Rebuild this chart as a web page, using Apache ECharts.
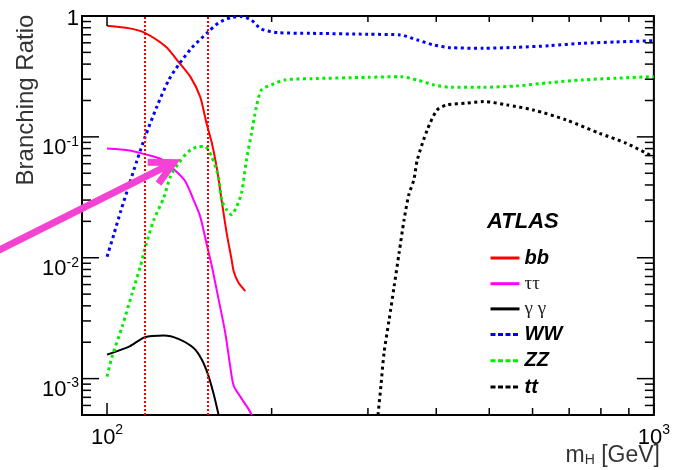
<!DOCTYPE html>
<html>
<head>
<meta charset="utf-8">
<script src="https://cdn.jsdelivr.net/npm/echarts@6/dist/echarts.min.js"></script>
<style>
  html, body { margin: 0; padding: 0; background: #fff; }
  #chart { width: 673px; height: 470px; }
</style>
</head>
<body>
<div id="chart"></div>
<script>
// axis ranges (log scales)
const X_MIN = 90, X_MAX = 1000
const Y_MIN = 5e-4, Y_MAX = 1

// tick positions
const xTickVals = [100, 200, 300, 400, 500, 600, 700, 800, 900, 1000]
const yTickVals = [6e-4, 7e-4, 8e-4, 9e-4,
    1e-3, 2e-3, 3e-3, 4e-3, 5e-3, 6e-3, 7e-3, 8e-3, 9e-3,
    1e-2, 2e-2, 3e-2, 4e-2, 5e-2, 6e-2, 7e-2, 8e-2, 9e-2,
    0.1, 0.2, 0.3, 0.4, 0.5, 0.6, 0.7, 0.8, 0.9, 1]

// Higgs mass (GeV) and branching ratios
const bbM  = [100, 110, 117, 128, 135, 142, 148, 152, 155.5, 159, 162, 165.5, 169, 170.5, 174, 179]
const bbBR = [0.83, 0.79, 0.73, 0.56, 0.42, 0.315, 0.215, 0.13, 0.089, 0.053, 0.030, 0.016, 0.0096, 0.0077, 0.0062, 0.0053]

const tauM  = [100, 110, 117, 126, 133, 139, 144, 148, 152, 155.5, 160, 164.5, 168, 170.5, 176, 181, 184]
const tauBR = [0.080, 0.077, 0.072, 0.065, 0.053, 0.043, 0.030, 0.022, 0.0132, 0.0085, 0.0045, 0.0024, 0.00126, 0.00087, 0.00069, 0.00057, 0.0005]

const ggM  = [100, 110, 117, 127, 135, 144, 149, 153, 156.5, 160]
const ggBR = [0.00158, 0.00185, 0.00219, 0.00227, 0.00213, 0.00179, 0.00144, 0.00108, 0.00076, 0.0005]

const wwM  = [100, 103, 106, 109.6, 113.4, 117.2, 123.3, 129.7, 135.1, 142.8, 153.1, 159.8, 168.8, 175.9, 183.5, 191.4, 205.5, 236, 300, 344, 369, 396, 425, 488, 561, 645, 742, 853, 1000]
const wwBR = [0.0102, 0.0158, 0.0245, 0.0394, 0.0633, 0.098, 0.177, 0.296, 0.394, 0.544, 0.738, 0.875, 0.975, 0.99, 0.927, 0.781, 0.728, 0.719, 0.706, 0.697, 0.634, 0.576, 0.547, 0.541, 0.551, 0.568, 0.595, 0.61, 0.625]

const zzM  = [100, 102.2, 106.6, 111.2, 115.1, 117.6, 121.8, 126.9, 130.6, 135.2, 140.9, 147, 151, 155.4, 159.8, 162, 165.5, 169, 172.6, 176.2, 179.9, 183.7, 187.6, 191.6, 199.8, 211.3, 236, 300, 344, 369, 396, 425, 488, 561, 645, 742, 853, 1000]
const zzBR = [0.00104, 0.00153, 0.0027, 0.0051, 0.0085, 0.0124, 0.0206, 0.0311, 0.047, 0.0607, 0.0756, 0.0831, 0.0831, 0.0687, 0.047, 0.0302, 0.0249, 0.0227, 0.0265, 0.0343, 0.0645, 0.107, 0.178, 0.245, 0.269, 0.296, 0.303, 0.311, 0.315, 0.296, 0.269, 0.257, 0.257, 0.264, 0.281, 0.296, 0.306, 0.315]

const ttM  = [313, 316.8, 321, 328, 335, 342, 349.3, 356.5, 364, 369.3, 385, 401.5, 418.6, 455, 488, 538, 601.7, 691.8, 795.6, 889.4, 1000]
const ttBR = [0.0005, 0.000865, 0.00163, 0.00307, 0.0058, 0.0109, 0.0206, 0.0335, 0.0441, 0.0645, 0.114, 0.167, 0.184, 0.19, 0.196, 0.184, 0.167, 0.138, 0.107, 0.0887, 0.068]

// dotted vertical lines (GeV)
const cutLines = [117, 153]
// annotation arrow: [mStart, brStart, mTip, brTip]
const arrowPts = [58.5, 0.00963, 132.4, 0.0613]

const greekNames = ['ττ', 'γ γ']

function zip(a, b) {
    return a.map((v, i) => [v, b[i]])
}
function isDecade(v) {
    const l = Math.log10(v)
    return Math.abs(l - Math.round(l)) < 1e-6
}
function powLabel(v) {
    if (!isDecade(v)) return ''
    const e = Math.round(Math.log10(v))
    if (e === 0) return '{o|1}'
    return '{n|10}{s|' + e + '}'
}

const FONT = 'Liberation Sans, Arial, sans-serif'
const xRich = {
    n: { fontSize: 22, fontFamily: FONT, color: '#000', padding: [4, 0, 0, 0] },
    s: { fontSize: 14, fontFamily: FONT, color: '#000', verticalAlign: 'top' }
}
const yRich = {
    o: { fontSize: 22, fontFamily: FONT, color: '#000', padding: [0, 0, 2, 0] },
    n: { fontSize: 22, fontFamily: FONT, color: '#000', padding: [14, 0, 0, 0] },
    s: { fontSize: 14, fontFamily: FONT, color: '#000', verticalAlign: 'top', padding: [12, 0, 0, 0] }
}

function lineSeries(name, data, color, dashed) {
    return {
        name: name,
        type: 'line',
        data: data,
        symbol: 'none',
        showSymbol: false,
        smooth: 0.25,
        clip: true,
        lineStyle: {
            color: color,
            width: dashed ? 3 : 2,
            type: dashed ? [3, 3.5] : 'solid'
        },
        itemStyle: { color: color }
    }
}

function tickRect(x, y, w, h) {
    return {
        type: 'rect',
        shape: { x: Math.min(x, x + w), y: Math.min(y, y + h), width: Math.abs(w), height: Math.abs(h) },
        style: { fill: '#000', stroke: null }
    }
}

// frame ticks: positions along each axis come from the axis scale (probed at an
// interior value on the other axis), the frame edges from the grid rect
function tickChildren(params, api) {
    const cs = params.coordSys
    const left = cs.x, right = cs.x + cs.width
    const top = cs.y, bottom = cs.y + cs.height
    const out = []
    xTickVals.forEach(v => {
        let px = api.coord([v, 0.01])[0]
        if (!isFinite(px)) px = v >= X_MAX ? right : left
        const big = isDecade(v)
        out.push(tickRect(px - 0.75, bottom, 1.5, -(big ? 12 : 7)))
        out.push(tickRect(px - 0.75, top, 1.5, big ? 10 : 6))
    })
    yTickVals.forEach(v => {
        let py = api.coord([200, v])[1]
        if (!isFinite(py)) py = v >= Y_MAX ? top : bottom
        const len = isDecade(v) ? 17 : 9
        out.push(tickRect(left, py - 0.75, len, 1.5))
        out.push(tickRect(right, py - 0.75, -len, 1.5))
    })
    return out
}

function renderDecor(params, api) {
    const p0 = api.coord([api.value(0), api.value(1)])
    const p1 = api.coord([api.value(2), api.value(3)])
    const dx = p1[0] - p0[0], dy = p1[1] - p0[1]
    const len = Math.sqrt(dx * dx + dy * dy)
    const ux = dx / len, uy = dy / len
    const nx = -uy, ny = ux
    const L = 23, W = 12
    const st = { stroke: '#f442d4', lineWidth: 7, fill: null, lineJoin: 'miter', lineCap: 'butt' }
    let ticks = []
    try {
        ticks = tickChildren(params, api)
    } catch (e) {
        ticks = []
    }
    return {
        type: 'group',
        children: ticks.concat([
            { type: 'line', shape: { x1: p0[0], y1: p0[1], x2: p1[0] - ux * 3, y2: p1[1] - uy * 3 }, style: st },
            {
                type: 'polyline',
                shape: { points: [
                    [p1[0] - ux * L + nx * W, p1[1] - uy * L + ny * W],
                    [p1[0], p1[1]],
                    [p1[0] - ux * L - nx * W, p1[1] - uy * L - ny * W]
                ] },
                style: Object.assign({}, st)
            }
        ])
    }
}

const chart = echarts.init(document.getElementById('chart'))

const bbSeries = lineSeries('bb', zip(bbM, bbBR), '#ff0000', false)
bbSeries.markLine = {
    symbol: 'none',
    silent: true,
    label: { show: false },
    lineStyle: { color: '#ff0000', width: 2, type: [2, 2] },
    data: cutLines.map(v => ({ xAxis: v }))
}

chart.setOption({
    animation: false,
    backgroundColor: '#fff',
    title: {
        text: 'ATLAS',
        left: 487,
        top: 211,
        padding: 0,
        textStyle: { fontSize: 22, fontWeight: 'bold', fontStyle: 'italic', fontFamily: FONT, color: '#000' }
    },
    grid: {
        left: 82, right: 13, top: 16, bottom: 55,
        show: true, borderColor: '#000', borderWidth: 2
    },
    legend: {
        orient: 'vertical',
        left: 489,
        top: 248,
        itemWidth: 29,
        itemHeight: 20,
        itemGap: 6.2,
        padding: 0,
        itemStyle: { opacity: 0 },
        data: [
            { name: 'bb', lineStyle: { width: 3 } },
            { name: 'ττ', lineStyle: { width: 3 } },
            { name: 'γ γ', lineStyle: { width: 3 } },
            { name: 'WW', lineStyle: { width: 3, type: [5, 2.5] } },
            { name: 'ZZ', lineStyle: { width: 3, type: [5, 2.5] } },
            { name: 'tt', lineStyle: { width: 3, type: [5, 2.5] } }
        ],
        formatter: name => greekNames.includes(name) ? '{g|' + name + '}' : '{b|' + name + '}',
        textStyle: {
            rich: {
                b: { fontSize: 20, fontWeight: 'bold', fontStyle: 'italic', fontFamily: FONT, color: '#000' },
                g: { fontSize: 19, fontFamily: 'Liberation Serif, DejaVu Serif, serif', color: '#222' }
            }
        }
    },
    xAxis: {
        type: 'log',
        logBase: 10,
        min: X_MIN,
        max: X_MAX,
        axisLine: { show: false },
        axisTick: { show: false },
        splitLine: { show: false },
        axisLabel: {
            margin: 8,
            showMinLabel: true,
            showMaxLabel: true,
            formatter: powLabel,
            rich: xRich
        }
    },
    yAxis: {
        type: 'log',
        logBase: 10,
        min: Y_MIN,
        max: Y_MAX,
        axisLine: { show: false },
        axisTick: { show: false },
        splitLine: { show: false },
        axisLabel: {
            margin: 3,
            padding: [8, 0, 0, 0],
            formatter: powLabel,
            rich: yRich
        }
    },
    graphic: [
        {
            type: 'text',
            x: 26, y: 100,
            rotation: Math.PI / 2,
            style: { text: 'Branching Ratio', fontSize: 24, fontFamily: FONT, fill: '#333', align: 'center', verticalAlign: 'middle' }
        },
        {
            type: 'text',
            right: 13, top: 444,
            style: {
                text: 'm{h|H} [GeV]',
                fontSize: 23, fontFamily: FONT, fill: '#333',
                rich: { h: { fontSize: 14, fontFamily: FONT, fill: '#333', verticalAlign: 'bottom', padding: [10, 0, 0, 0] } }
            }
        }
    ],
    series: [
        bbSeries,
        lineSeries('ττ', zip(tauM, tauBR), '#ff00ff', false),
        lineSeries('γ γ', zip(ggM, ggBR), '#000000', false),
        lineSeries('WW', zip(wwM, wwBR), '#0000ff', true),
        lineSeries('ZZ', zip(zzM, zzBR), '#00ee00', true),
        lineSeries('tt', zip(ttM, ttBR), '#000000', true),
        {
            type: 'custom',
            name: 'arrow',
            renderItem: renderDecor,
            data: [arrowPts],
            dimensions: ['m0', 'br0', 'm1', 'br1'],
            encode: { x: [0, 2], y: [1, 3] },
            clip: false,
            silent: true,
            z: 10
        }
    ]
})
</script>
</body>
</html>
